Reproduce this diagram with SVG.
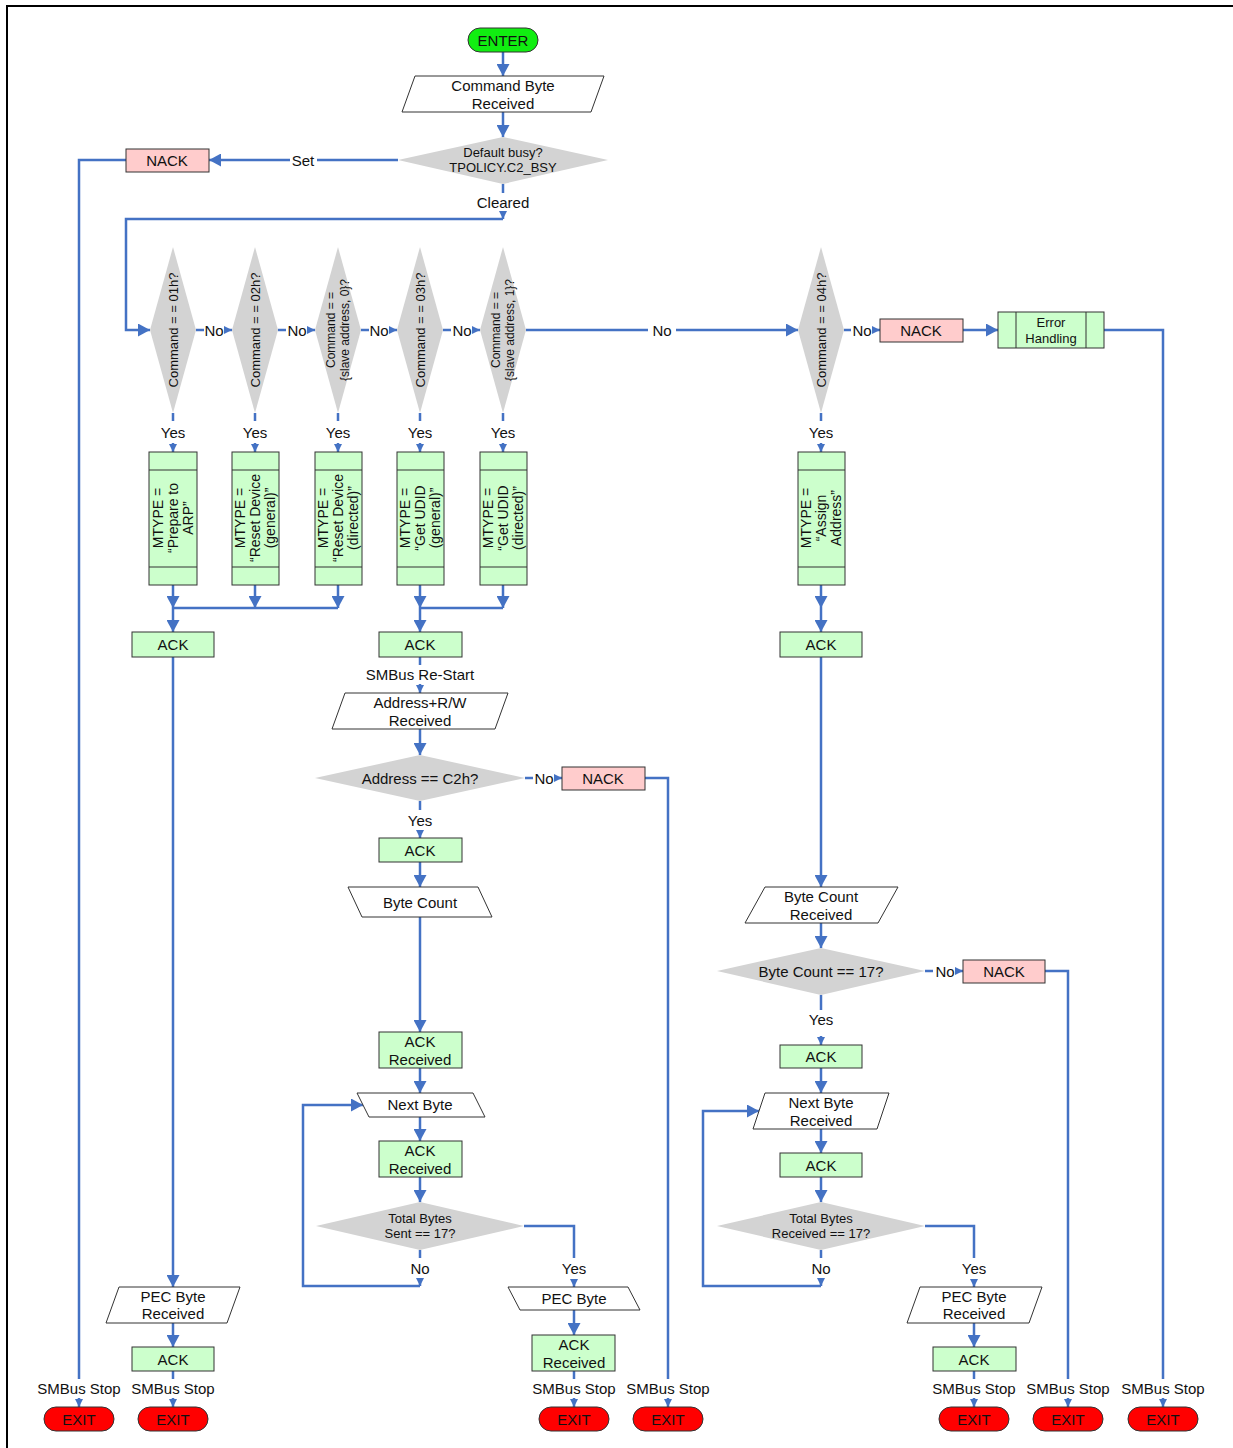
<svg xmlns="http://www.w3.org/2000/svg" width="1233" height="1448" viewBox="0 0 1233 1448">
<style>
.ln{fill:none;stroke:#4472c4;stroke-width:2.5}
.b{marker-end:url(#big)}
.s{marker-end:url(#sm)}
.g{fill:#ccffcc;stroke:#333;stroke-width:1}
.p{fill:#ffcccc;stroke:#333;stroke-width:1}
.io{fill:#fff;stroke:#333;stroke-width:1}
.d{fill:#d3d3d3}
.x{fill:#ff0000;stroke:#333;stroke-width:1}
.en{fill:#11ee11;stroke:#333;stroke-width:1}
.il{stroke:#333;stroke-width:1}
text{font-family:"Liberation Sans",Arial,sans-serif;font-size:15px;fill:#111;text-anchor:middle;dominant-baseline:central}
.f13{font-size:13px}
.f12{font-size:12px}
.f14{font-size:14px}
</style>
<defs>
<marker id="big" markerUnits="userSpaceOnUse" markerWidth="12" markerHeight="13" refX="12" refY="6.5" orient="auto" viewBox="0 0 12 13"><path d="M0,0 L12,6.5 L0,13 z" fill="#4472c4"/></marker>
<marker id="sm" markerUnits="userSpaceOnUse" markerWidth="8" markerHeight="8" refX="8" refY="4" orient="auto" viewBox="0 0 8 8"><path d="M0,0 L8,4 L0,8 z" fill="#4472c4"/></marker>
</defs>
<rect x="7" y="6" width="1240" height="1460" fill="none" stroke="#000" stroke-width="2"/>

<g id="connectors">
<path class="ln b" d="M503,52 V76"/>
<path class="ln b" d="M503,112 V137"/>
<path class="ln" d="M398,160 H317"/><text x="303" y="160">Set</text><path class="ln b" d="M290,160 H209"/>
<path class="ln" d="M126,160 H79 V1379"/>
<path class="ln" d="M503,184 V193"/><text x="503" y="202">Cleared</text><path class="ln s" d="M503,211 V219"/>
<path class="ln b" d="M503,219 H126 V330 H150"/>
<path class="ln" d="M196,330 H204"/><text x="214" y="330">No</text><path class="ln s" d="M224,330 H232"/>
<path class="ln" d="M278,330 H286"/><text x="297" y="330">No</text><path class="ln s" d="M307,330 H315"/>
<path class="ln" d="M361,330 H369"/><text x="379" y="330">No</text><path class="ln s" d="M389,330 H397"/>
<path class="ln" d="M443,330 H451"/><text x="462" y="330">No</text><path class="ln s" d="M472,330 H480"/>
<path class="ln" d="M526,330 H648"/><text x="662" y="330">No</text><path class="ln b" d="M676,330 H798"/>
<path class="ln" d="M844,330 H851"/><text x="862" y="330">No</text><path class="ln s" d="M872,330 H880"/>
<path class="ln b" d="M963,330 H998"/>
<path class="ln" d="M1104,330 H1163 V1379"/>
<path class="ln" d="M173,413 V421 M255,413 V421 M338,413 V421 M420,413 V421 M503,413 V421 M821,413 V421"/>
<text x="173" y="432">Yes</text><text x="255" y="432">Yes</text><text x="338" y="432">Yes</text><text x="420" y="432">Yes</text><text x="503" y="432">Yes</text><text x="821" y="432">Yes</text>
<path class="ln s" d="M173,443 V452"/><path class="ln s" d="M255,443 V452"/><path class="ln s" d="M338,443 V452"/><path class="ln s" d="M420,443 V452"/><path class="ln s" d="M503,443 V452"/><path class="ln s" d="M821,443 V452"/>
<path class="ln b" d="M173,585 V608"/><path class="ln b" d="M255,585 V608"/><path class="ln b" d="M338,585 V608"/><path class="ln b" d="M420,585 V608"/><path class="ln b" d="M503,585 V608"/><path class="ln b" d="M821,585 V608"/>
<path class="ln" d="M173,608 H338 M420,608 H503"/>
<path class="ln b" d="M173,608 V632"/><path class="ln b" d="M420,608 V632"/><path class="ln b" d="M821,608 V632"/>
<path class="ln b" d="M173,657 V1287"/>
<path class="ln b" d="M173,1323 V1347"/>
<path class="ln" d="M173,1371 V1379"/>
<path class="ln" d="M420,657 V665"/><text x="420" y="674">SMBus Re-Start</text><path class="ln s" d="M420,684 V693"/>
<path class="ln b" d="M420,729 V755"/>
<path class="ln" d="M525,778 H533"/><text x="544" y="778">No</text><path class="ln s" d="M554,778 H562"/>
<path class="ln" d="M645,778 H668 V1379"/>
<path class="ln" d="M420,801 V810"/><text x="420" y="820">Yes</text><path class="ln s" d="M420,830 V838"/>
<path class="ln b" d="M420,862 V887"/>
<path class="ln b" d="M420,917 V1032"/>
<path class="ln b" d="M420,1068 V1093"/>
<path class="ln b" d="M420,1117 V1141"/>
<path class="ln b" d="M420,1177 V1202"/>
<path class="ln" d="M420,1250 V1258"/><text x="420" y="1268">No</text><path class="ln s" d="M420,1278 V1286"/>
<path class="ln b" d="M420,1286 H303 V1105 H363"/>
<path class="ln" d="M524,1226 H574 V1258"/><text x="574" y="1268">Yes</text><path class="ln s" d="M574,1279 V1287"/>
<path class="ln b" d="M574,1310 V1335"/>
<path class="ln" d="M574,1371 V1379"/>
<path class="ln b" d="M821,657 V887"/>
<path class="ln b" d="M821,923 V948"/>
<path class="ln" d="M925,971 H933"/><text x="945" y="971">No</text><path class="ln s" d="M955,971 H963"/>
<path class="ln" d="M1045,971 H1068 V1379"/>
<path class="ln" d="M821,995 V1010"/><text x="821" y="1019">Yes</text><path class="ln s" d="M821,1036 V1045"/>
<path class="ln b" d="M821,1068 V1093"/>
<path class="ln b" d="M821,1129 V1153"/>
<path class="ln b" d="M821,1177 V1202"/>
<path class="ln" d="M821,1250 V1258"/><text x="821" y="1268">No</text><path class="ln s" d="M821,1278 V1286"/>
<path class="ln b" d="M821,1286 H703 V1111 H759"/>
<path class="ln" d="M925,1226 H974 V1258"/><text x="974" y="1268">Yes</text><path class="ln s" d="M974,1279 V1287"/>
<path class="ln b" d="M974,1323 V1347"/>
<path class="ln" d="M974,1371 V1379"/>
<text x="79" y="1388">SMBus Stop</text><text x="173" y="1388">SMBus Stop</text><text x="574" y="1388">SMBus Stop</text><text x="668" y="1388">SMBus Stop</text><text x="974" y="1388">SMBus Stop</text><text x="1068" y="1388">SMBus Stop</text><text x="1163" y="1388">SMBus Stop</text>
<path class="ln s" d="M79,1398 V1407"/><path class="ln s" d="M173,1398 V1407"/><path class="ln s" d="M574,1398 V1407"/><path class="ln s" d="M668,1398 V1407"/><path class="ln s" d="M974,1398 V1407"/><path class="ln s" d="M1068,1398 V1407"/><path class="ln s" d="M1163,1398 V1407"/>
</g>

<g id="enter"><rect class="en" x="468" y="28" width="70" height="24" rx="12"/><text x="503" y="40">ENTER</text></g>
<g id="cmd-byte"><polygon class="io" points="415,76 604,76 591,112 402,112"/><text x="503" y="85">Command Byte</text><text x="503" y="103">Received</text></g>
<g id="busy"><polygon class="d" points="503,137 608,160 503,184 398,160"/><text class="f13" x="503" y="152">Default busy?</text><text class="f13" x="503" y="167">TPOLICY.C2_BSY</text></g>
<g id="nack-busy"><rect class="p" x="126" y="149" width="83" height="23"/><text x="167" y="160">NACK</text></g>

<g id="d01"><polygon class="d" points="173,247 196,330 173,413 150,330"/><text class="f13" transform="translate(173,330) rotate(-90)">Command = = 01h?</text></g>
<g id="d02"><polygon class="d" points="255,247 278,330 255,413 232,330"/><text class="f13" transform="translate(255,330) rotate(-90)">Command = = 02h?</text></g>
<g id="d-slave0"><polygon class="d" points="338,247 361,330 338,413 315,330"/><text class="f12" transform="translate(338,330) rotate(-90)"><tspan x="0" y="-7">Command = =</tspan><tspan x="0" y="7">{slave address, 0}?</tspan></text></g>
<g id="d03"><polygon class="d" points="420,247 443,330 420,413 397,330"/><text class="f13" transform="translate(420,330) rotate(-90)">Command = = 03h?</text></g>
<g id="d-slave1"><polygon class="d" points="503,247 526,330 503,413 480,330"/><text class="f12" transform="translate(503,330) rotate(-90)"><tspan x="0" y="-7">Command = =</tspan><tspan x="0" y="7">{slave address, 1}?</tspan></text></g>
<g id="d04"><polygon class="d" points="821,247 844,330 821,413 798,330"/><text class="f13" transform="translate(821,330) rotate(-90)">Command = = 04h?</text></g>
<g id="nack-cmd"><rect class="p" x="880" y="319" width="83" height="23"/><text x="921" y="330">NACK</text></g>
<g id="error"><rect class="g" x="998" y="312" width="106" height="36"/><line class="il" x1="1016" y1="312" x2="1016" y2="348"/><line class="il" x1="1086" y1="312" x2="1086" y2="348"/><text class="f13" x="1051" y="322">Error</text><text class="f13" x="1051" y="338">Handling</text></g>

<g id="m-arp"><rect class="g" x="149" y="452" width="48" height="133"/><line class="il" x1="149" y1="470" x2="197" y2="470"/><line class="il" x1="149" y1="567" x2="197" y2="567"/><text class="f14" transform="translate(173,518) rotate(-90)"><tspan x="0" y="-15">MTYPE =</tspan><tspan x="0" y="0">“Prepare to</tspan><tspan x="0" y="15">ARP”</tspan></text></g>
<g id="m-reset-g"><rect class="g" x="232" y="452" width="47" height="133"/><line class="il" x1="232" y1="470" x2="279" y2="470"/><line class="il" x1="232" y1="567" x2="279" y2="567"/><text class="f14" transform="translate(255,518) rotate(-90)"><tspan x="0" y="-15">MTYPE =</tspan><tspan x="0" y="0">“Reset Device</tspan><tspan x="0" y="15">(general)”</tspan></text></g>
<g id="m-reset-d"><rect class="g" x="315" y="452" width="47" height="133"/><line class="il" x1="315" y1="470" x2="362" y2="470"/><line class="il" x1="315" y1="567" x2="362" y2="567"/><text class="f14" transform="translate(338,518) rotate(-90)"><tspan x="0" y="-15">MTYPE =</tspan><tspan x="0" y="0">“Reset Device</tspan><tspan x="0" y="15">(directed)”</tspan></text></g>
<g id="m-udid-g"><rect class="g" x="397" y="452" width="47" height="133"/><line class="il" x1="397" y1="470" x2="444" y2="470"/><line class="il" x1="397" y1="567" x2="444" y2="567"/><text class="f14" transform="translate(420,518) rotate(-90)"><tspan x="0" y="-15">MTYPE =</tspan><tspan x="0" y="0">“Get UDID</tspan><tspan x="0" y="15">(general)”</tspan></text></g>
<g id="m-udid-d"><rect class="g" x="480" y="452" width="47" height="133"/><line class="il" x1="480" y1="470" x2="527" y2="470"/><line class="il" x1="480" y1="567" x2="527" y2="567"/><text class="f14" transform="translate(503,518) rotate(-90)"><tspan x="0" y="-15">MTYPE =</tspan><tspan x="0" y="0">“Get UDID</tspan><tspan x="0" y="15">(directed)”</tspan></text></g>
<g id="m-assign"><rect class="g" x="798" y="452" width="47" height="133"/><line class="il" x1="798" y1="470" x2="845" y2="470"/><line class="il" x1="798" y1="567" x2="845" y2="567"/><text class="f14" transform="translate(821,518) rotate(-90)"><tspan x="0" y="-15">MTYPE =</tspan><tspan x="0" y="0">“Assign</tspan><tspan x="0" y="15">Address”</tspan></text></g>

<g id="ack1"><rect class="g" x="132" y="632" width="82" height="25"/><text x="173" y="644">ACK</text></g>
<g id="ack2"><rect class="g" x="379" y="632" width="83" height="25"/><text x="420" y="644">ACK</text></g>
<g id="ack3"><rect class="g" x="780" y="632" width="82" height="25"/><text x="821" y="644">ACK</text></g>

<g id="addr-rw"><polygon class="io" points="345,693 508,693 495,729 332,729"/><text x="420" y="702">Address+R/W</text><text x="420" y="720">Received</text></g>
<g id="addr-q"><polygon class="d" points="420,755 525,778 420,801 315,778"/><text x="420" y="778">Address == C2h?</text></g>
<g id="nack-addr"><rect class="p" x="562" y="767" width="83" height="23"/><text x="603" y="778">NACK</text></g>
<g id="ack-addr"><rect class="g" x="379" y="838" width="83" height="24"/><text x="420" y="850">ACK</text></g>
<g id="byte-count"><polygon class="io" points="348,887 478,887 492,917 362,917"/><text x="420" y="902">Byte Count</text></g>
<g id="ack-rcv1"><rect class="g" x="379" y="1032" width="83" height="36"/><text x="420" y="1041">ACK</text><text x="420" y="1059">Received</text></g>
<g id="next-byte"><polygon class="io" points="357,1093 473,1093 485,1117 369,1117"/><text x="420" y="1104">Next Byte</text></g>
<g id="ack-rcv2"><rect class="g" x="379" y="1141" width="83" height="36"/><text x="420" y="1150">ACK</text><text x="420" y="1168">Received</text></g>
<g id="total-sent"><polygon class="d" points="420,1202 524,1226 420,1250 316,1226"/><text class="f13" x="420" y="1218">Total Bytes</text><text class="f13" x="420" y="1233">Sent == 17?</text></g>
<g id="pec-byte"><polygon class="io" points="508,1287 628,1287 640,1310 520,1310"/><text x="574" y="1298">PEC Byte</text></g>
<g id="ack-rcv3"><rect class="g" x="532" y="1335" width="83" height="36"/><text x="574" y="1344">ACK</text><text x="574" y="1362">Received</text></g>

<g id="pec-rcv-l"><polygon class="io" points="119,1287 240,1287 227,1323 106,1323"/><text x="173" y="1296">PEC Byte</text><text x="173" y="1313">Received</text></g>
<g id="ack-pec-l"><rect class="g" x="132" y="1347" width="82" height="24"/><text x="173" y="1359">ACK</text></g>

<g id="bc-rcv"><polygon class="io" points="765,887 898,887 878,923 745,923"/><text x="821" y="896">Byte Count</text><text x="821" y="914">Received</text></g>
<g id="bc-q"><polygon class="d" points="821,948 925,971 821,995 717,971"/><text x="821" y="971">Byte Count == 17?</text></g>
<g id="nack-bc"><rect class="p" x="963" y="960" width="82" height="23"/><text x="1004" y="971">NACK</text></g>
<g id="ack-bc"><rect class="g" x="780" y="1045" width="82" height="23"/><text x="821" y="1056">ACK</text></g>
<g id="nb-rcv"><polygon class="io" points="765,1093 889,1093 877,1129 753,1129"/><text x="821" y="1102">Next Byte</text><text x="821" y="1120">Received</text></g>
<g id="ack-nb"><rect class="g" x="780" y="1153" width="82" height="24"/><text x="821" y="1165">ACK</text></g>
<g id="total-rcv"><polygon class="d" points="821,1202 925,1226 821,1250 717,1226"/><text class="f13" x="821" y="1218">Total Bytes</text><text class="f13" x="821" y="1233">Received == 17?</text></g>
<g id="pec-rcv-r"><polygon class="io" points="920,1287 1042,1287 1029,1323 907,1323"/><text x="974" y="1296">PEC Byte</text><text x="974" y="1313">Received</text></g>
<g id="ack-pec-r"><rect class="g" x="933" y="1347" width="83" height="24"/><text x="974" y="1359">ACK</text></g>

<g id="exit1"><rect class="x" x="44" y="1407" width="70" height="24" rx="12"/><text x="79" y="1419">EXIT</text></g>
<g id="exit2"><rect class="x" x="138" y="1407" width="70" height="24" rx="12"/><text x="173" y="1419">EXIT</text></g>
<g id="exit3"><rect class="x" x="539" y="1407" width="70" height="24" rx="12"/><text x="574" y="1419">EXIT</text></g>
<g id="exit4"><rect class="x" x="633" y="1407" width="70" height="24" rx="12"/><text x="668" y="1419">EXIT</text></g>
<g id="exit5"><rect class="x" x="939" y="1407" width="70" height="24" rx="12"/><text x="974" y="1419">EXIT</text></g>
<g id="exit6"><rect class="x" x="1033" y="1407" width="70" height="24" rx="12"/><text x="1068" y="1419">EXIT</text></g>
<g id="exit7"><rect class="x" x="1128" y="1407" width="70" height="24" rx="12"/><text x="1163" y="1419">EXIT</text></g>
</svg>
